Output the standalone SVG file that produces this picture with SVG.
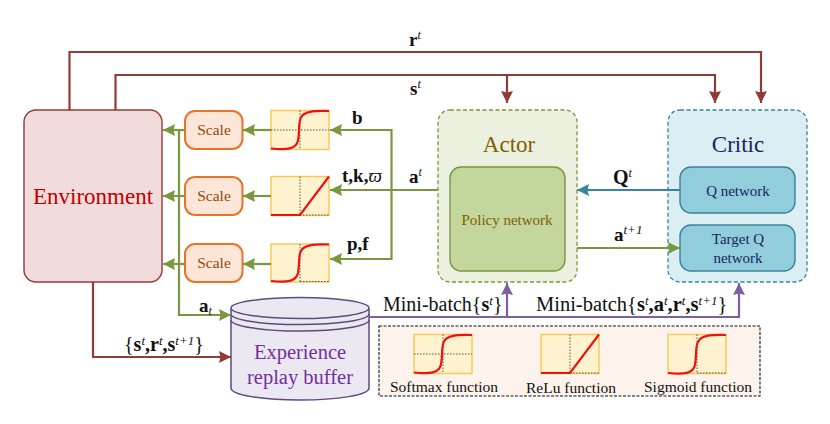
<svg xmlns="http://www.w3.org/2000/svg" width="830" height="424" viewBox="0 0 830 424">
<style>
text{font-family:"Liberation Serif","Times New Roman",serif;fill:#111}
.b{font-weight:bold}
.i{font-style:italic;font-weight:normal}
.c{text-anchor:middle}
.l{font-size:19px}
.fn{font-size:15.500px}
.scale{fill:#fce6d8;stroke:#e8742a;stroke-width:2}
.box{fill:#fff2cf;stroke:#fec64a;stroke-width:1.4}
.curve{fill:none;stroke:#f01010;stroke-width:2.2}
.dot{fill:none;stroke:#555;stroke-width:1;stroke-dasharray:1.5 1.5}
.red{fill:none;stroke:#8f3c38;stroke-width:2.200}
.grn{fill:none;stroke:#7a963f;stroke-width:2.200}
.pur{fill:none;stroke:#7b60a3;stroke-width:2.200}
.teal{fill:none;stroke:#38849f;stroke-width:2.200}
</style>
<defs>
<marker id="ar" markerUnits="userSpaceOnUse" markerWidth="13" markerHeight="13" refX="12" refY="6.500" orient="auto"><path d="M0,0.500L12,6.500L0,12.500L1.500,6.500z" fill="#8f3c38"/></marker>
<marker id="ag" markerUnits="userSpaceOnUse" markerWidth="13" markerHeight="13" refX="12" refY="6.500" orient="auto"><path d="M0,0.500L12,6.500L0,12.500L1.500,6.500z" fill="#7a963f"/></marker>
<marker id="ap" markerUnits="userSpaceOnUse" markerWidth="13" markerHeight="13" refX="12" refY="6.500" orient="auto"><path d="M0,0.500L12,6.500L0,12.500L1.500,6.500z" fill="#7b60a3"/></marker>
<marker id="at" markerUnits="userSpaceOnUse" markerWidth="13" markerHeight="13" refX="12" refY="6.500" orient="auto"><path d="M0,0.500L12,6.500L0,12.500L1.500,6.500z" fill="#38849f"/></marker>
<g id="sCurve">
<rect class="box" width="58" height="39"/>
<path class="dot" d="M29,0V39M0,19.500H58"/>
<path class="curve" d="M0,38C16,39.500 25,39 27,30C29,20 27,12 30,7C33,1 42,0 58,0.500"/>
</g>
<g id="rampCurve">
<rect class="box" width="58" height="39"/>
<path class="dot" d="M29,0V39M29,38.500H58"/>
<path class="curve" d="M0,38.500H29L58,0"/>
</g>
</defs>

<g id="environment">
<rect x="24" y="110" width="138" height="172" rx="12" fill="#f2dcdb" stroke="#8f3c38" stroke-width="1.4"/>
<text class="c" x="93" y="204" font-size="23" style="fill:#c00000">Environment</text>
</g>

<g id="actor">
<rect x="438" y="110" width="139" height="172" rx="12" fill="#ebf1de" stroke="#7a963f" stroke-width="1.3" stroke-dasharray="4 2.500"/>
<text class="c" x="509" y="152" font-size="23" style="fill:#7f6000">Actor</text>
<rect x="450" y="167" width="115" height="104" rx="11" fill="#c3d69b" stroke="#7a963f" stroke-width="1.4"/>
<text class="c" x="507" y="225" font-size="15" style="fill:#7f6000">Policy network</text>
</g>

<g id="critic">
<rect x="668" y="110" width="139" height="172" rx="12" fill="#dbeef4" stroke="#38849f" stroke-width="1.3" stroke-dasharray="4 2.500"/>
<text class="c" x="738" y="152" font-size="23" style="fill:#17255f">Critic</text>
<rect x="680" y="167" width="115" height="46" rx="11" fill="#92cddc" stroke="#38849f" stroke-width="1.4"/>
<text class="c" x="738" y="196" font-size="15" style="fill:#17255f">Q network</text>
<rect x="680" y="225" width="115" height="46" rx="11" fill="#92cddc" stroke="#38849f" stroke-width="1.4"/>
<text class="c" x="738" y="244" font-size="15" style="fill:#17255f">Target Q</text>
<text class="c" x="738" y="263" font-size="15" style="fill:#17255f">network</text>
</g>

<g id="scale-1"><rect class="scale" x="185" y="111" width="57.500" height="38" rx="10"/><text class="c" x="214" y="135" font-size="15.500" style="fill:#984807">Scale</text></g>
<g id="scale-2"><rect class="scale" x="185" y="177" width="57.500" height="38" rx="10"/><text class="c" x="214" y="201" font-size="15.500" style="fill:#984807">Scale</text></g>
<g id="scale-3"><rect class="scale" x="185" y="244" width="57.500" height="38" rx="10"/><text class="c" x="214" y="268" font-size="15.500" style="fill:#984807">Scale</text></g>

<g id="activation-softmax"><use href="#sCurve" x="271" y="110.500"/></g>
<g id="activation-relu"><use href="#rampCurve" x="271" y="176.500"/></g>
<g id="activation-sigmoid">
<rect class="box" x="271" y="244" width="58" height="38"/>
<path class="dot" d="M300,244V282M300,281.500H329"/>
<path class="curve" d="M271,281C287,282.500 296,282 298,273C300,262 298,256 301,251C304,245 313,244 329,244.500"/>
</g>

<g id="replay-buffer">
<path d="M231,309V388C231,395 262,400 300,400C338,400 369,395 369,388V309" fill="#ece8f2" stroke="#5f4a80" stroke-width="1.500"/>
<ellipse cx="300" cy="308" rx="69" ry="10.500" fill="#ece8f2" stroke="#5f4a80" stroke-width="1.500"/>
<path d="M231,314C231,320 262,324.500 300,324.500C338,324.500 369,320 369,314M231,320C231,326 262,331 300,331C338,331 369,326 369,320" fill="none" stroke="#5f4a80" stroke-width="1.500"/>
<text class="c" x="300" y="359" font-size="20.500" style="fill:#7030a0">Experience</text>
<text class="c" x="300" y="384" font-size="20.500" style="fill:#7030a0">replay buffer</text>
</g>

<g id="legend">
<rect x="379" y="326" width="381" height="70" fill="#fdf3ed" stroke="#111" stroke-width="1.1" stroke-dasharray="3 1.500"/>
<use href="#sCurve" x="414" y="334.500"/>
<use href="#rampCurve" x="541" y="334.500"/>
<rect class="box" x="668" y="334.500" width="58" height="39"/>
<path class="dot" d="M697,334.500V373.500M697,373H726"/>
<path class="curve" d="M668,373C684,374.500 693,374 695,365C697,354 695,347 698,342C701,335.500 710,334.500 726,335"/>
<text class="c fn" x="444" y="392">Softmax function</text>
<text class="c fn" x="571" y="393">ReLu function</text>
<text class="c fn" x="698" y="392">Sigmoid function</text>
</g>

<g id="connectors">
<path class="red" d="M69.500,110V52H761V103" marker-end="url(#ar)"/>
<path class="red" d="M115.500,110V75H715V103" marker-end="url(#ar)"/>
<path class="red" d="M507,75V103" marker-end="url(#ar)"/>
<path class="red" d="M93,282V357H231" marker-end="url(#ar)"/>

<path class="grn" d="M438,190H330" marker-end="url(#ag)"/>
<path class="grn" d="M391.500,190V130H330" marker-end="url(#ag)"/>
<path class="grn" d="M391.500,190V259H330" marker-end="url(#ag)"/>
<path class="grn" d="M271,130H243" marker-end="url(#ag)"/>
<path class="grn" d="M271,196H243" marker-end="url(#ag)"/>
<path class="grn" d="M271,264H243" marker-end="url(#ag)"/>
<path class="grn" d="M185,130H163" marker-end="url(#ag)"/>
<path class="grn" d="M185,196H163" marker-end="url(#ag)"/>
<path class="grn" d="M185,264H163" marker-end="url(#ag)"/>
<path class="grn" d="M179,130V315H231" marker-end="url(#ag)"/>
<path class="grn" d="M577,248H680" marker-end="url(#ag)"/>

<path class="teal" d="M680,190H577" marker-end="url(#at)"/>

<path class="pur" d="M369,317H739V283" marker-end="url(#ap)"/>
<path class="pur" d="M507,317V283" marker-end="url(#ap)"/>
</g>

<g id="labels">
<text class="l b" x="409" y="46">r<tspan class="i" font-size="12" dy="-7">t</tspan></text>
<text class="l b" x="410" y="95">s<tspan class="i" font-size="12" dy="-7">t</tspan></text>
<text class="l b" x="352" y="124">b</text>
<text class="l b" x="342" y="182">t,k,<tspan class="i">ϖ</tspan></text>
<text class="l b" x="347" y="250">p,f</text>
<text class="l b" x="409" y="183">a<tspan class="i" font-size="12" dy="-7">t</tspan></text>
<text class="l b" x="199" y="312">a<tspan class="i" font-size="12" dy="3">t</tspan></text>
<text class="b" x="613" y="184" font-size="20">Q<tspan class="i" font-size="12" dy="-7">t</tspan></text>
<text class="l b" x="614" y="241">a<tspan class="i" font-size="13" dy="-7">t+1</tspan></text>
<text x="124" y="351" font-size="20">{<tspan class="b">s</tspan><tspan class="i" font-size="13" dy="-6">t</tspan><tspan class="b" dy="6">,r</tspan><tspan class="i" font-size="13" dy="-6">t</tspan><tspan class="b" dy="6">,s</tspan><tspan class="i" font-size="13" dy="-6">t+1</tspan><tspan dy="6">}</tspan></text>
<text x="383" y="311" font-size="20">Mini-batch{<tspan class="b">s</tspan><tspan class="i" font-size="13" dy="-6">t</tspan><tspan dy="6">}</tspan></text>
<text x="536" y="311" font-size="20.500">Mini-batch{<tspan class="b">s</tspan><tspan class="i" font-size="13" dy="-6">t</tspan><tspan class="b" dy="6">,a</tspan><tspan class="i" font-size="13" dy="-6">t</tspan><tspan class="b" dy="6">,r</tspan><tspan class="i" font-size="13" dy="-6">t</tspan><tspan class="b" dy="6">,s</tspan><tspan class="i" font-size="13" dy="-6">t+1</tspan><tspan dy="6">}</tspan></text>
</g>
</svg>
